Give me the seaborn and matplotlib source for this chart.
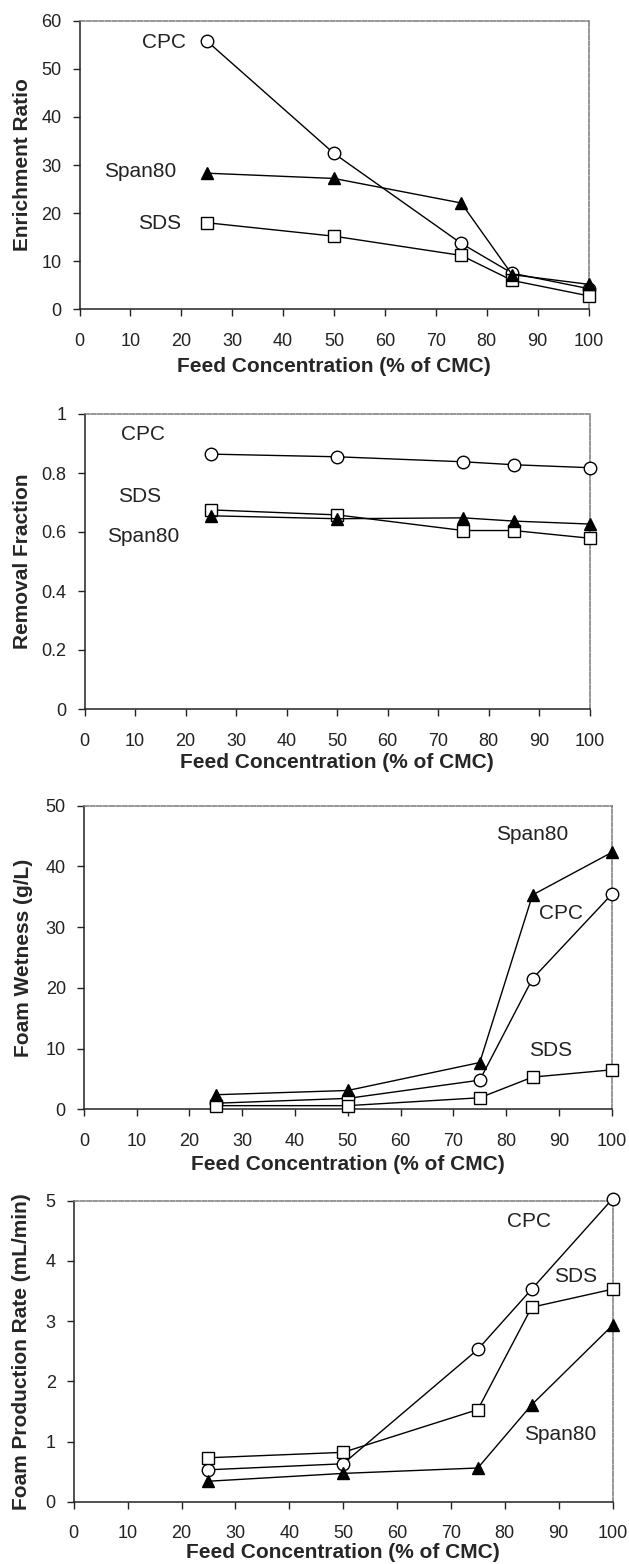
import matplotlib
matplotlib.use("Agg")
import matplotlib.pyplot as plt
import seaborn as sns
import pandas as pd

# Feed concentration (% of CMC)
feed = [25, 50, 75, 85, 100]
surfactants = ["CPC", "SDS", "Span80"]

# Enrichment ratio
er_cpc = [55.8, 32.4, 13.7, 7.5, 4.3]
er_sds = [18.0, 15.2, 11.2, 6.0, 2.8]
er_span = [28.3, 27.2, 22.1, 7.2, 5.2]

# Removal fraction
rf_cpc = [0.864, 0.855, 0.838, 0.828, 0.818]
rf_sds = [0.675, 0.658, 0.605, 0.605, 0.579]
rf_span = [0.655, 0.645, 0.648, 0.637, 0.627]

# Foam wetness (g/L)
fw_cpc = [1.0, 1.8, 4.8, 21.5, 35.4]
fw_sds = [0.6, 0.6, 1.9, 5.3, 6.5]
fw_span = [2.4, 3.1, 7.7, 35.3, 42.3]

# Foam production rate (mL/min)
fp_cpc = [0.53, 0.63, 2.53, 3.53, 5.03]
fp_sds = [0.73, 0.82, 1.53, 3.23, 3.53]
fp_span = [0.34, 0.47, 0.56, 1.61, 2.93]

x_ticks = list(range(0, 101, 10))
xlabel = "Feed Concentration (% of CMC)"

sns.set_style("ticks")
plt.rcParams["font.family"] = ["Liberation Sans", "DejaVu Sans"]

W, H = 629, 1564
fig = plt.figure(figsize=(W / 100, H / 100), dpi=100)

marker_style = {
    "CPC": dict(marker="o", markerfacecolor="white"),
    "SDS": dict(marker="s", markerfacecolor="white"),
    "Span80": dict(marker="^", markerfacecolor="black"),
}

# panel layout in pixels: left, right, top (max value), bottom (zero)
panels = [
    dict(box=(79.5, 588.5, 20.7, 309.3), ylabel="Enrichment Ratio",
         data={"CPC": er_cpc, "SDS": er_sds, "Span80": er_span},
         ylim=(0, 60), yticks=list(range(0, 61, 10)),
         labels={"CPC": (21.0, 55.5), "Span80": (19.0, 28.6), "SDS": (20.0, 17.9)},
         ha="right", xlab_y=366, ylab_x=23),
    dict(box=(84.7, 589.5, 414, 709), ylabel="Removal Fraction",
         data={"CPC": rf_cpc, "SDS": rf_sds, "Span80": rf_span},
         ylim=(0, 1), yticks=[0, 0.2, 0.4, 0.6, 0.8, 1],
         labels={"CPC": (11.5, 0.929), "SDS": (10.9, 0.72), "Span80": (11.6, 0.584)},
         ha="center", xlab_y=763, ylab_x=23),
    dict(box=(83.9, 611.7, 805.7, 1109.3), ylabel="Foam Wetness (g/L)",
         data={"CPC": fw_cpc, "SDS": fw_sds, "Span80": fw_span},
         ylim=(0, 50), yticks=list(range(0, 51, 10)),
         labels={"Span80": (85.0, 45.2), "CPC": (90.3, 32.2), "SDS": (88.5, 9.65)},
         ha="center", xlab_y=1165, ylab_x=23),
    dict(box=(73.8, 612.5, 1200.7, 1501.7), ylabel="Foam Production Rate (mL/min)",
         data={"CPC": fp_cpc, "SDS": fp_sds, "Span80": fp_span},
         ylim=(0, 5), yticks=list(range(0, 6)),
         labels={"CPC": (84.5, 4.65), "SDS": (93.2, 3.74), "Span80": (90.3, 1.12)},
         ha="center", xlab_y=1553, ylab_x=22),
]

for p in panels:
    l, r, t, b = p["box"]
    ax = fig.add_axes([l / W, 1 - b / H, (r - l) / W, (b - t) / H])
    ax.set_facecolor("white")
    hpx = b - t
    wpx = r - l

    rows = []
    for name in surfactants:
        for xv, yv in zip(feed, p["data"][name]):
            rows.append({"feed": xv, "value": yv, "surfactant": name})
    df = pd.DataFrame(rows)

    for name in surfactants:
        sub = df[df["surfactant"] == name]
        sns.lineplot(data=sub, x="feed", y="value", ax=ax, color="black",
                     linewidth=1.0, markersize=9, markeredgecolor="black",
                     markeredgewidth=1.0, clip_on=False, zorder=3,
                     **marker_style[name])

    ax.set_xlim(0, 100)
    ax.set_ylim(*p["ylim"])
    ax.set_xticks(x_ticks)
    ax.set_xticklabels([str(v) for v in x_ticks], fontsize=13)
    ax.set_yticks(p["yticks"])
    ax.set_yticklabels([f"{v:g}" for v in p["yticks"]], fontsize=13)
    ax.tick_params(axis="y", direction="out", length=5, width=1, pad=8, colors="#222222")
    ax.tick_params(axis="x", direction="out", length=5, width=1, pad=12, colors="#222222")

    for side in ("left", "bottom"):
        ax.spines[side].set_color("#222222")
        ax.spines[side].set_linewidth(1.1)
    for side in ("top", "right"):
        ax.spines[side].set_visible(True)
        ax.spines[side].set_color("#7a7a7a")
        ax.spines[side].set_linewidth(1.1)
        ax.spines[side].set_linestyle((0, (3, 1.2)))

    ax.set_xlabel(xlabel, fontsize=15, fontweight="bold", va="center")
    ax.xaxis.set_label_coords(0.5, -(p["xlab_y"] - b) / hpx)
    ax.set_ylabel(p["ylabel"], fontsize=15, fontweight="bold", va="center")
    ax.yaxis.set_label_coords(-(l - p["ylab_x"]) / wpx, 0.5)

    for name, (tx, ty) in p["labels"].items():
        ax.text(tx, ty, name, fontsize=15, ha=p["ha"], va="center", color="#222222")

    if ax.get_legend() is not None:
        ax.get_legend().remove()

fig.savefig("out.png", dpi=100, facecolor="white")
